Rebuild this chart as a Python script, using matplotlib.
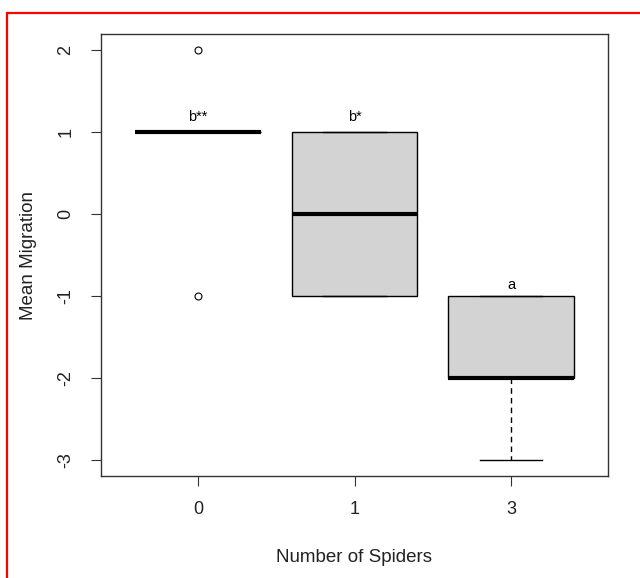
import matplotlib.pyplot as plt
from matplotlib.patches import Rectangle

plt.rcParams['font.family'] = ['Liberation Sans', 'DejaVu Sans']
plt.rcParams['axes.unicode_minus'] = False

# groups and box statistics
groups = ['0', '1', '3']
medians = [1, 0, -2]
q1 = [1, -1, -2]
q3 = [1, 1, -1]
whis_lo = [1, -1, -3]
whis_hi = [1, 1, -1]
fliers = [[2, -1], [], []]
letters = ['b**', 'b*', 'a']
letter_y = [1.18, 1.18, -0.87]

stats = []
for i in range(len(groups)):
    stats.append({'med': medians[i], 'q1': q1[i], 'q3': q3[i],
                  'whislo': whis_lo[i], 'whishi': whis_hi[i],
                  'fliers': fliers[i], 'label': groups[i]})

fig = plt.figure(figsize=(6.4, 5.78), dpi=100)
ax = fig.add_axes([101/640, 1-476/578, 507/640, 442/578])

pos = [1, 2, 3]
ax.bxp(stats, positions=pos, widths=0.8, patch_artist=True,
       boxprops=dict(facecolor='#d3d3d3', edgecolor='black', linewidth=1),
       medianprops=dict(color='black', linewidth=3, solid_capstyle='butt'),
       whiskerprops=dict(color='black', linewidth=1, linestyle=(0, (4, 3))),
       capprops=dict(color='black', linewidth=1),
       flierprops=dict(marker='o', markerfacecolor='none', markeredgecolor='black',
                       markersize=5, markeredgewidth=0.8),
       capwidths=0.4)

for p, t, y in zip(pos, letters, letter_y):
    ax.text(p, y, t, ha='center', va='center', fontsize=10.5)

ax.set_xlim(0.38, 3.62)
ax.set_ylim(-3.2, 2.2)
ax.set_yticks([-3, -2, -1, 0, 1, 2])
ax.set_xticks(pos)
ax.set_xticklabels(groups)
ax.tick_params(axis='both', direction='out', length=7, labelsize=13, color='#333333',
               labelcolor='#222222')
ax.tick_params(axis='x', pad=11)
ax.tick_params(axis='y', pad=12)
for lab in ax.get_yticklabels():
    lab.set_rotation(90)
    lab.set_va('center')
for s in ax.spines.values():
    s.set_color('#333333')
    s.set_linewidth(1)

ax.set_xlabel('Number of Spiders', fontsize=13.5, labelpad=22, color='#222222')
ax.set_ylabel('Mean Migration', fontsize=13.5, labelpad=15, color='#222222')

fig.patches.append(Rectangle((7/640, -0.1), 1.2, 1 - 13/578 + 0.1, transform=fig.transFigure,
                             fill=False, edgecolor='#ff0000', linewidth=1.6))

fig.savefig('out.png', dpi=100)
